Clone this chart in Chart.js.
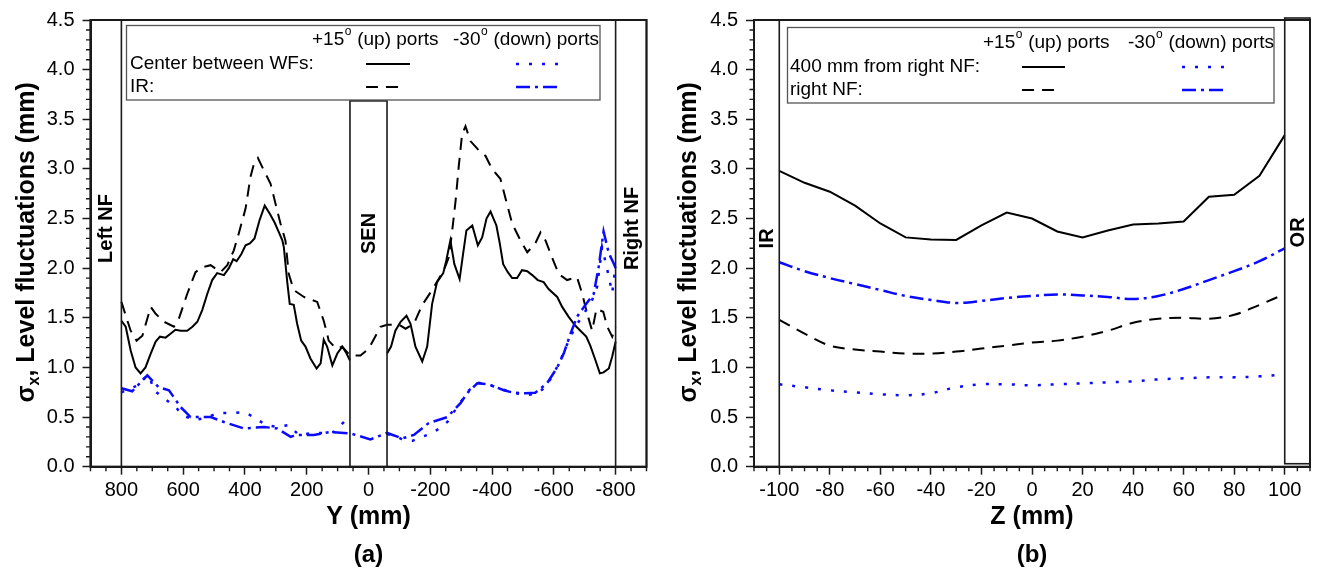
<!DOCTYPE html>
<html>
<head>
<meta charset="utf-8">
<script src="https://cdn.jsdelivr.net/npm/chart.js@4/dist/chart.umd.min.js"></script>
<style>
  html, body { margin: 0; padding: 0; background: #fff; }
  #wrap { position: relative; width: 1317px; height: 569px; }
  canvas { position: absolute; top: 0; }
  #chartA { left: 0; }
  #chartB { left: 660px; }
</style>
</head>
<body>
<div id="wrap">
  <canvas id="chartA" width="660" height="569"></canvas>
  <canvas id="chartB" width="657" height="569"></canvas>
</div>
<script>
// (a) level fluctuation sigma along the mould width, Y in mm
const yCenterUp = [800, 786, 770, 754, 738, 722, 705, 689, 675, 657, 641, 625, 608, 587, 570, 554, 538, 522, 506, 490,
  468, 452, 438, 427, 412, 398, 384, 369, 353, 336, 320, 304, 290, 279, 274, 263, 255, 242, 231, 218,
  204, 188, 168, 155, 145, 134, 117, 101, 85, 71, 60, 0, -60, -73, -87, -104, -123, -136, -152, -174, -190, -206,
  -222, -242, -252, -265, -278, -295, -306, -317, -336, -354, -368, -382, -395, -414, -425, -436, -451, -465, -481, -497,
  -514, -530, -548, -567, -583, -611, -627, -648, -670, -686, -705, -718, -735, -749, -761, -778, -789, -800];
const sCenterUp = [1.47, 1.41, 1.17, 1.00, 0.94, 1.00, 1.14, 1.26, 1.31, 1.30, 1.34, 1.38, 1.37, 1.37, 1.41, 1.46, 1.58, 1.74, 1.88, 1.95,
  1.93, 2.00, 2.09, 2.07, 2.14, 2.23, 2.25, 2.30, 2.48, 2.63, 2.55, 2.46, 2.36, 2.28, 2.21, 1.86, 1.64, 1.63, 1.44, 1.27,
  1.21, 1.09, 0.99, 1.04, 1.28, 1.21, 1.02, 1.14, 1.21, 1.14, 1.07, null, 1.14, 1.21, 1.37, 1.46, 1.52, 1.44, 1.21, 1.06, 1.21, 1.64,
  1.86, 1.95, 2.08, 2.28, 2.04, 1.89, 2.14, 2.38, 2.43, 2.23, 2.31, 2.50, 2.57, 2.43, 2.25, 2.04, 1.96, 1.90, 1.90, 1.98,
  1.97, 1.93, 1.88, 1.86, 1.79, 1.71, 1.61, 1.51, 1.42, 1.37, 1.31, 1.22, 1.07, 0.94, 0.95, 0.99, 1.11, 1.26];

const yIrUp = [800, 770, 751, 732, 705, 689, 662, 630, 614, 587, 560, 538, 511, 479, 457, 436, 420, 398, 382, 371,
  358, 338, 317, 301, 285, 269, 258, 242, 209, 166, 145, 134, 129, 105, 85, 60, 26, -1, -39, -60,
  -98, -120, -147, -174, -206, -244, -260, -270, -282, -292, -303, -314, -330, -362, -379, -400, -427, -443, -465, -492,
  -514, -540, -557, -573, -594, -616, -643, -675, -692, -708, -724, -738, -760, -773, -789, -800];
const sIrUp = [1.66, 1.37, 1.27, 1.32, 1.61, 1.54, 1.46, 1.41, 1.49, 1.74, 1.96, 2.01, 2.03, 1.96, 2.03, 2.18, 2.35, 2.60, 2.92, 3.05,
  3.11, 2.98, 2.85, 2.65, 2.45, 2.28, 1.94, 1.78, 1.71, 1.66, 1.47, 1.34, 1.27, 1.19, 1.21, 1.12, 1.12, 1.19, 1.41, 1.43,
  1.43, 1.39, 1.44, 1.63, 1.78, 1.98, 2.11, 2.35, 2.68, 3.02, 3.35, 3.43, 3.28, 3.17, 3.13, 3.00, 2.90, 2.71, 2.45, 2.28,
  2.16, 2.25, 2.36, 2.28, 2.11, 1.94, 1.88, 1.91, 1.74, 1.54, 1.37, 1.59, 1.56, 1.41, 1.31, 1.41];

const yCenterDown = [800, 778, 746, 727, 710, 695, 662, 624, 603, 565, 527, 490, 447, 403, 371, 333, 295, 258, 226, 188,
  150, 112, 80, 70, 0, -60, -93, -109, -141, -190, -222, -255, -276, -298, -325, -358, -395, -433, -470, -514,
  -546, -573, -600, -621, -648, -670, -697, -724, -740, -756, -772, -789, -800];
const sCenterDown = [0.75, 0.78, 0.82, 0.89, 0.92, 0.77, 0.69, 0.60, 0.52, 0.47, 0.49, 0.54, 0.54, 0.55, 0.50, 0.42, 0.40, 0.42, 0.32, 0.335,
  0.34, 0.35, 0.45, 0.48, null, 0.33, 0.30, 0.275, 0.26, 0.32, 0.37, 0.45, 0.55, 0.65, 0.77, 0.845, 0.82, 0.78, 0.745, 0.72,
  0.74, 0.80, 0.94, 1.07, 1.27, 1.41, 1.54, 1.68, 1.81, 2.21, 2.00, 1.75, 2.03];

const yIrDown = [800, 765, 716, 679, 646, 608, 576, 511, 468, 403, 338, 295, 252, 236, 177, 123, 58, -6, -60, -109,
  -147, -195, -255, -298, -319, -352, -389, -438, -470, -508, -540, -578, -611, -632, -654, -675, -702, -729, -745, -761,
  -778, -795, -800];
const sIrDown = [0.79, 0.76, 0.92, 0.80, 0.77, 0.60, 0.50, 0.50, 0.45, 0.385, 0.40, 0.385, 0.30, 0.32, 0.32, 0.35, 0.335, 0.275, 0.34, 0.285,
  0.32, 0.44, 0.50, 0.64, 0.74, 0.84, 0.83, 0.77, 0.745, 0.74, 0.745, 0.84, 1.00, 1.14, 1.34, 1.51, 1.63, 1.74, 2.01, 2.37,
  2.15, 2.04, 2.00];

// (b) sigma across the mould thickness, Z in mm
const zPos = [-100, -90, -80, -70, -60, -50, -40, -30, -20, -10, 0, 10, 20, 30, 40, 50, 60, 70, 80, 90, 100];
const sNf400Up = [2.98, 2.86, 2.77, 2.63, 2.45, 2.31, 2.29, 2.285, 2.43, 2.56, 2.50, 2.37, 2.31, 2.38, 2.44, 2.45, 2.47, 2.72, 2.74, 2.93, 3.34];
const sNfUp = [1.48, 1.34, 1.22, 1.18, 1.16, 1.14, 1.14, 1.16, 1.19, 1.22, 1.25, 1.27, 1.31, 1.37, 1.45, 1.49, 1.50, 1.49, 1.53, 1.63, 1.74];
const sNf400Down = [0.83, 0.80, 0.77, 0.75, 0.73, 0.72, 0.74, 0.80, 0.83, 0.83, 0.82, 0.83, 0.84, 0.85, 0.86, 0.88, 0.89, 0.90, 0.90, 0.91, 0.93];
const sNfDown = [2.06, 1.97, 1.90, 1.84, 1.78, 1.72, 1.68, 1.65, 1.67, 1.70, 1.72, 1.735, 1.725, 1.71, 1.69, 1.72, 1.79, 1.88, 1.97, 2.07, 2.20];

// tick labels
const yTicks = [0, 0.5, 1, 1.5, 2, 2.5, 3, 3.5, 4, 4.5];
const yTicksA = [800, 600, 400, 200, 0, -200, -400, -600, -800];
const zTicksB = [-100, -80, -60, -40, -20, 0, 20, 40, 60, 80, 100];

const FONT = '"Liberation Sans", Arial, Helvetica, sans-serif';
const INK = '#1a1a1a';
const BLUE = '#0a0aff';

const STYLE = {
  solid:   { borderColor: '#000', borderWidth: 2, borderDash: [] },
  dashed:  { borderColor: '#000', borderWidth: 2, borderDash: [12, 8] },
  dotted:  { borderColor: BLUE, borderWidth: 2.5, borderDash: [3, 10] },
  dashdot: { borderColor: BLUE, borderWidth: 2.5, borderDash: [14, 5, 3, 5] }
};

const pts = (xs, vs) => xs.map((x, i) => ({ x, y: vs[i] }));

function series(label, xs, vs, style, tension) {
  return Object.assign({
    label, data: pts(xs, vs), pointRadius: 0, tension: tension || 0,
    spanGaps: false, borderCapStyle: 'butt', fill: false
  }, STYLE[style]);
}

// text with a raised small "o" for the degree sign
function degText(ctx, x, y, pre, post, size) {
  ctx.font = size + 'px ' + FONT;
  ctx.fillText(pre, x, y);
  let w = ctx.measureText(pre).width;
  ctx.font = Math.round(size * 0.62) + 'px ' + FONT;
  ctx.fillText('o', x + w + 0.5, y - size * 0.42);
  w += ctx.measureText('o').width + 1;
  ctx.font = size + 'px ' + FONT;
  ctx.fillText(post, x + w, y);
}

function sample(ctx, x1, x2, y, style) {
  const s = STYLE[style];
  ctx.save();
  ctx.strokeStyle = s.borderColor;
  ctx.lineWidth = s.borderWidth;
  ctx.setLineDash(s.borderDash);
  ctx.beginPath();
  ctx.moveTo(x1, y);
  ctx.lineTo(x2, y);
  ctx.stroke();
  ctx.restore();
}

const decor = {
  id: 'decor',
  afterDraw(chart, args, o) {
    const { ctx, chartArea: a, scales: { x, y } } = chart;
    ctx.save();

    // vertical wall boxes with their names
    o.walls.forEach(w => {
      const x1 = x.getPixelForValue(w.from), x2 = x.getPixelForValue(w.to);
      const y1 = y.getPixelForValue(w.top), y2 = y.getPixelForValue(w.bottom);
      ctx.strokeStyle = INK;
      ctx.lineWidth = 1.6;
      ctx.strokeRect(Math.min(x1, x2), Math.min(y1, y2), Math.abs(x2 - x1), Math.abs(y2 - y1));
      ctx.save();
      ctx.translate((x1 + x2) / 2, y.getPixelForValue(w.labelAt));
      ctx.rotate(-Math.PI / 2);
      ctx.fillStyle = '#000';
      ctx.font = 'bold 20px ' + FONT;
      ctx.textAlign = 'center';
      ctx.textBaseline = 'middle';
      ctx.fillText(w.label, 0, 1);
      ctx.restore();
    });

    // plot frame
    ctx.strokeStyle = INK;
    ctx.lineWidth = 2;
    ctx.strokeRect(a.left, a.top, a.right - a.left, a.bottom - a.top);

    // minor ticks
    ctx.lineWidth = 1.4;
    ctx.beginPath();
    for (let v = x.min; v <= x.max + 1e-9; v += o.xMinor) {
      if (Math.abs(v % o.xMajor) < 1e-6) continue;
      const px = x.getPixelForValue(v);
      ctx.moveTo(px, a.bottom);
      ctx.lineTo(px, a.bottom + 4.5);
    }
    for (let k = 0; k <= 45; k++) {
      if (k % 5 === 0) continue;
      const py = y.getPixelForValue(k / 10);
      ctx.moveTo(a.left, py);
      ctx.lineTo(a.left - 4.5, py);
    }
    ctx.stroke();

    // legend table
    const L = o.legend;
    ctx.strokeStyle = '#555';
    ctx.lineWidth = 1.3;
    ctx.strokeRect(L.box[0], L.box[1], L.box[2] - L.box[0], L.box[3] - L.box[1]);
    ctx.fillStyle = '#000';
    ctx.textAlign = 'left';
    ctx.textBaseline = 'middle';
    degText(ctx, L.colUp, L.rows[0], '+15', ' (up) ports', 19);
    degText(ctx, L.colDown, L.rows[0], '-30', ' (down) ports', 19);
    ctx.font = '19px ' + FONT;
    L.names.forEach((n, i) => {
      const ry = L.rows[i + 1];
      ctx.fillText(n, L.nameX, ry);
      sample(ctx, L.upX, L.upX + L.upLen[i], ry, L.up[i]);
      sample(ctx, L.downX, L.downX + 42, ry, L.down[i]);
    });

    // axis titles
    const cx = (a.left + a.right) / 2;
    ctx.textAlign = 'center';
    ctx.font = 'bold 25px ' + FONT;
    ctx.fillText(o.xTitle, cx, 517);
    ctx.font = 'bold 24px ' + FONT;
    ctx.fillText(o.tag, cx, 555);

    ctx.save();
    ctx.translate(o.yTitleX, (a.top + a.bottom) / 2 - 1);
    ctx.rotate(-Math.PI / 2);
    const big = 'bold 25px ' + FONT, small = 'bold 16px ' + FONT;
    const rest = ', Level fluctuations (mm)';
    ctx.font = big;
    const wS = ctx.measureText('\u03c3').width, wR = ctx.measureText(rest).width;
    ctx.font = small;
    const wX = ctx.measureText('x').width;
    let tx = -(wS + wX + wR) / 2;
    ctx.textAlign = 'left';
    ctx.font = big;
    ctx.fillText('\u03c3', tx, 0);
    ctx.font = small;
    ctx.fillText('x', tx + wS, 8);
    ctx.font = big;
    ctx.fillText(rest, tx + wS + wX, 0);
    ctx.restore();

    ctx.restore();
  }
};

function makeChart(id, cfg) {
  return new Chart(document.getElementById(id), {
    type: 'line',
    data: { datasets: cfg.datasets },
    options: {
      responsive: false,
      animation: false,
      events: [],
      layout: { padding: { left: 0, right: cfg.padRight, top: 19, bottom: 0 } },
      plugins: { legend: { display: false }, tooltip: { enabled: false }, decor: cfg.decor },
      scales: {
        x: {
          type: 'linear',
          min: cfg.xMin, max: cfg.xMax, reverse: cfg.reverse,
          afterFit: s => { s.height = 102.3; },
          afterBuildTicks: s => { s.ticks = cfg.xTicks.map(v => ({ value: v })); },
          ticks: { color: '#000', font: { family: FONT, size: 20 }, padding: 4, maxRotation: 0, autoSkip: false,
                   callback: v => String(v) },
          grid: { drawOnChartArea: false, drawTicks: true, tickLength: 8, tickColor: INK, tickWidth: 1.5 },
          border: { display: true, color: INK, width: 2 }
        },
        y: {
          min: 0, max: 4.5,
          afterFit: s => { s.width = cfg.yWidth; },
          afterBuildTicks: s => { s.ticks = yTicks.map(v => ({ value: v })); },
          ticks: { color: '#000', font: { family: FONT, size: 20 }, padding: 8, autoSkip: false,
                   callback: v => v.toFixed(1) },
          grid: { drawOnChartArea: false, drawTicks: true, tickLength: 8, tickColor: INK, tickWidth: 1.5 },
          border: { display: true, color: INK, width: 2 }
        }
      }
    },
    plugins: [decor]
  });
}

makeChart('chartA', {
  xMin: -900, xMax: 900, reverse: true, xTicks: yTicksA, padRight: 13.5, yWidth: 90.5,
  datasets: [
    series('Center between WFs, -30\u00b0', yCenterDown, sCenterDown, 'dotted'),
    series('IR, -30\u00b0', yIrDown, sIrDown, 'dashdot'),
    series('IR, +15\u00b0', yIrUp, sIrUp, 'dashed'),
    series('Center between WFs, +15\u00b0', yCenterUp, sCenterUp, 'solid')
  ],
  decor: {
    xMinor: 50, xMajor: 200, yTitleX: 27, xTitle: 'Y (mm)', tag: '(a)',
    walls: [
      { from: 900, to: 800, bottom: 0, top: 4.5, label: 'Left NF', labelAt: 2.4 },
      { from: 60, to: -60, bottom: 0, top: 3.685, label: 'SEN', labelAt: 2.35 },
      { from: -800, to: -900, bottom: 0, top: 4.5, label: 'Right NF', labelAt: 2.4 }
    ],
    legend: {
      box: [126.5, 25.5, 600, 100], rows: [40, 64, 87], nameX: 130, colUp: 312, colDown: 453,
      names: ['Center between WFs:', 'IR:'], up: ['solid', 'dashed'], down: ['dotted', 'dashdot'],
      upX: 366, upLen: [44, 33], downX: 516
    }
  }
});

makeChart('chartB', {
  xMin: -110, xMax: 110, reverse: false, xTicks: zTicksB, padRight: 7, yWidth: 94,
  datasets: [
    series('400 mm from right NF, -30\u00b0', zPos, sNf400Down, 'dotted', 0.35),
    series('right NF, -30\u00b0', zPos, sNfDown, 'dashdot', 0.35),
    series('right NF, +15\u00b0', zPos, sNfUp, 'dashed', 0.35),
    series('400 mm from right NF, +15\u00b0', zPos, sNf400Up, 'solid')
  ],
  decor: {
    xMinor: 5, xMajor: 20, yTitleX: 29, xTitle: 'Z (mm)', tag: '(b)',
    walls: [
      { from: -110, to: -100, bottom: 0, top: 4.5, label: 'IR', labelAt: 2.3 },
      { from: 100, to: 110, bottom: 0.03, top: 4.52, label: 'OR', labelAt: 2.36 }
    ],
    legend: {
      box: [127.5, 27.5, 614, 103], rows: [42.5, 67, 90], nameX: 130, colUp: 323, colDown: 468,
      names: ['400 mm from right NF:', 'right NF:'], up: ['solid', 'dashed'], down: ['dotted', 'dashdot'],
      upX: 362, upLen: [43, 33], downX: 522
    }
  }
});
</script>
</body>
</html>
